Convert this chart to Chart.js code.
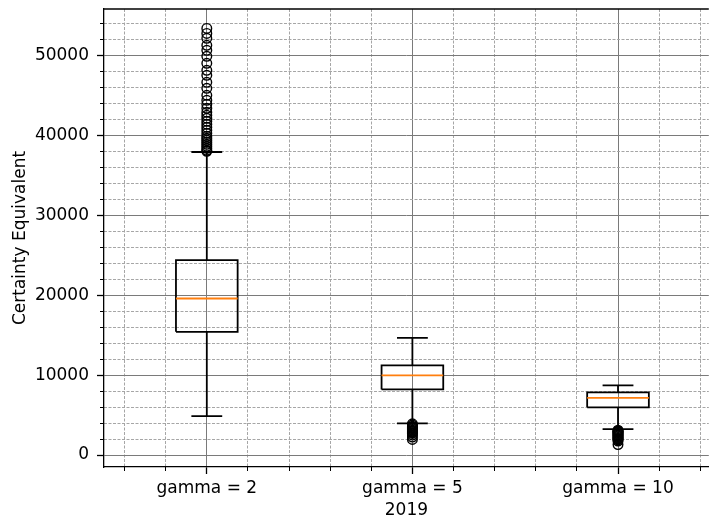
<!DOCTYPE html>
<html>
<head>
<meta charset="utf-8">
<script src="https://cdn.jsdelivr.net/npm/chart.js@4.4.1/dist/chart.umd.min.js"></script>
<style>
  html, body { margin: 0; padding: 0; background: #fff; overflow: hidden; }
  /* a few px wider than the window: the plot runs on past the right edge */
  #wrap { width: 715px; height: 523px; }
</style>
</head>
<body>
<div id="wrap"><canvas id="ce"></canvas></div>
<script>
// box statistics per risk-aversion setting
const categories = ["gamma = 2", "gamma = 5", "gamma = 10"];
const q1 = [15410, 8210, 5960];
const median = [19580, 9960, 7160];
const q3 = [24375, 11210, 7840];
const whiskerLow = [4875, 3960, 3250];
const whiskerHigh = [37910, 14660, 8710];
const outliersG2 = [53375, 52750, 52125, 51250, 50625, 49875, 49000, 48125, 47500, 46625,
  45875, 45000, 44375, 43875, 43375, 42875, 42500, 42125, 41750, 41375, 41000, 40625,
  40250, 39875, 39625, 39375, 39125, 38875, 38625, 38375, 38125, 38000];
const outliersG5 = [3900, 3750, 3600, 3500, 3400, 3300, 3200, 3100, 3000, 2900, 2800,
  2700, 2500, 2250, 1950];
const outliersG10 = [3100, 3000, 2950, 2900, 2800, 2700, 2600, 2500, 2400, 2300, 2200,
  2100, 2000, 1900, 1750, 1300];
const yMajorTicks = [0, 10000, 20000, 30000, 40000, 50000];
const yMinorTicks = [2000, 4000, 6000, 8000, 12000, 14000, 16000, 18000, 22000, 24000,
  26000, 28000, 32000, 34000, 36000, 38000, 42000, 44000, 46000, 48000, 52000, 54000];
const xMinorTicks = [0.6, 0.8, 1.2, 1.4, 1.6, 1.8, 2.2, 2.4, 2.6, 2.8, 3.2, 3.4];

const BOX_HALF = 0.15, CAP_HALF = 0.075;
const FONT = { family: "DejaVu Sans", size: 17 };
const MAJOR = "#7a7a7a", MINOR = "#a6a6a6";

// flatten line segments into one dataset, gaps between them via null y
function segments(build) {
  const pts = [];
  categories.forEach((_, i) => {
    build(i + 1, i).forEach((seg) => {
      pts.push(...seg, { x: seg[0].x, y: null });
    });
  });
  return pts;
}

const boxPts = segments((x, i) => [[
  { x: x - BOX_HALF, y: q1[i] }, { x: x + BOX_HALF, y: q1[i] },
  { x: x + BOX_HALF, y: q3[i] }, { x: x - BOX_HALF, y: q3[i] },
  { x: x - BOX_HALF, y: q1[i] },
]]);
const whiskerPts = segments((x, i) => [
  [{ x, y: q1[i] }, { x, y: whiskerLow[i] }],
  [{ x, y: q3[i] }, { x, y: whiskerHigh[i] }],
  [{ x: x - CAP_HALF, y: whiskerLow[i] }, { x: x + CAP_HALF, y: whiskerLow[i] }],
  [{ x: x - CAP_HALF, y: whiskerHigh[i] }, { x: x + CAP_HALF, y: whiskerHigh[i] }],
]);
const medianPts = segments((x, i) => [[
  { x: x - BOX_HALF, y: median[i] }, { x: x + BOX_HALF, y: median[i] },
]]);
const flierPts = [outliersG2, outliersG5, outliersG10]
  .flatMap((vals, i) => vals.map((v) => ({ x: i + 1, y: v })));

function lineSet(data, color, order) {
  return { data, showLine: true, borderColor: color, borderWidth: 1.8, pointRadius: 0,
    pointHoverRadius: 0, spanGaps: false, order };
}

const setTicks = (vals) => (s) => { s.ticks = vals.map((v) => ({ value: v })); };

// fixed axis sizes, no extra room for label overhang
const fitX = (h) => (s) => { s.height = h; s.paddingLeft = 0; s.paddingRight = 0; };
const fitY = (w) => (s) => { s.width = w; s.paddingTop = 0; s.paddingBottom = 0; };

const topSpine = {
  id: "topSpine",
  afterDraw(chart) {
    const { ctx, chartArea: { left, right, top } } = chart;
    ctx.save();
    ctx.strokeStyle = "#000";
    ctx.lineWidth = 1.3;
    ctx.beginPath();
    ctx.moveTo(left, top);
    ctx.lineTo(right, top);
    ctx.stroke();
    ctx.restore();
  },
};

new Chart(document.getElementById("ce"), {
  type: "scatter",
  data: {
    datasets: [
      lineSet(boxPts, "#000", 3),
      lineSet(whiskerPts, "#000", 2),
      lineSet(medianPts, "#ff7f0e", 1),
      { data: flierPts, pointStyle: "circle", pointRadius: 4.8, pointBorderWidth: 1.4,
        pointBorderColor: "#000", pointBackgroundColor: "rgba(0,0,0,0)", order: 0 },
    ],
  },
  options: {
    responsive: true, maintainAspectRatio: false, devicePixelRatio: 1, animation: false,
    layout: { padding: { top: 9, right: 0, left: 0, bottom: 0 } },
    plugins: { legend: { display: false }, tooltip: { enabled: false } },
    scales: {
      x: {
        type: "linear", position: "bottom", min: 0.5, max: 3.4416, weight: 1,
        afterBuildTicks: setTicks([1, 2, 3]),
        afterFit: fitX(56),
        ticks: { callback: (v) => categories[Math.round(v) - 1] || "", color: "#000",
          font: FONT, padding: 4, maxRotation: 0, autoSkip: false },
        grid: { color: MAJOR, lineWidth: 1, tickLength: 7, tickColor: "#000", tickWidth: 1.3 },
        border: { display: true, color: "#000", width: 1.3 },
        title: { display: true, text: "2019", color: "#000", font: FONT, padding: { top: 0, bottom: 2 } },
      },
      xMinor: {
        type: "linear", position: "bottom", min: 0.5, max: 3.4416, weight: 0,
        afterBuildTicks: setTicks(xMinorTicks),
        afterFit: fitX(0),
        ticks: { display: false },
        grid: { color: MINOR, lineWidth: 1, tickLength: 4, tickColor: "#000", tickWidth: 1 },
        border: { display: false, dash: [3, 1.5] },
      },
      y: {
        type: "linear", position: "left", min: -1500, max: 55800, weight: 1,
        afterBuildTicks: setTicks(yMajorTicks),
        afterFit: fitY(104),
        ticks: { callback: (v) => String(v), color: "#000", font: FONT, padding: 8 },
        grid: { color: MAJOR, lineWidth: 1, tickLength: 7, tickColor: "#000", tickWidth: 1.3 },
        border: { display: true, color: "#000", width: 1.3 },
        title: { display: true, text: "Certainty Equivalent", color: "#000", font: FONT,
          padding: { top: 10, bottom: 0 } },
      },
      yMinor: {
        type: "linear", position: "left", min: -1500, max: 55800, weight: 0,
        afterBuildTicks: setTicks(yMinorTicks),
        afterFit: fitY(0),
        ticks: { display: false },
        grid: { color: MINOR, lineWidth: 1, tickLength: 4, tickColor: "#000", tickWidth: 1 },
        border: { display: false, dash: [3, 1.5] },
      },
    },
  },
  plugins: [topSpine],
});
</script>
</body>
</html>
